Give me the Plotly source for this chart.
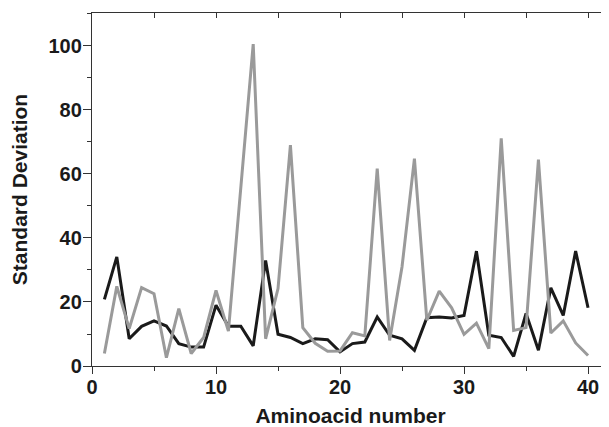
import plotly.graph_objects as go

aminoacid = list(range(1, 41))
sd_black = [20.8, 34.1, 8.5, 12.4, 14.1, 12.5, 7.0, 5.9, 5.9, 19.0,
            12.4, 12.4, 6.3, 33.0, 9.9, 8.9, 7.0, 8.5, 8.2, 4.4,
            7.0, 7.5, 15.3, 9.6, 8.5, 4.9, 15.1, 15.3, 15.0, 15.8,
            35.9, 9.6, 8.9, 3.0, 16.4, 4.9, 24.4, 15.8, 35.9, 18.2]
sd_gray = [3.9, 24.9, 11.7, 24.5, 22.6, 2.6, 17.9, 3.9, 8.9, 23.6,
           10.9, 57.0, 100.6, 8.5, 24.2, 69.0, 12.0, 7.1, 4.6, 4.7,
           10.4, 9.4, 61.7, 8.0, 31.0, 64.8, 14.3, 23.4, 18.2, 9.9,
           13.4, 5.4, 71.1, 11.1, 12.0, 64.5, 10.3, 14.1, 7.2, 3.3]

x_ticks = [0, 10, 20, 30, 40]
y_ticks = [0, 20, 40, 60, 80, 100]

FONT = "Liberation Sans, Arial, sans-serif"
AXC = "#333333"
TXT = "#1a1a1a"
XR = [0, 41.69]
YR = [0, 110.3]

fig = go.Figure()
fig.add_trace(go.Scatter(x=aminoacid, y=sd_black, mode="lines",
                         line=dict(color="#1a1a1a", width=3), showlegend=False))
fig.add_trace(go.Scatter(x=aminoacid, y=sd_gray, mode="lines",
                         line=dict(color="#9a9a9a", width=3), showlegend=False))
# invisible trace to activate the mirrored (top / right) axes
fig.add_trace(go.Scatter(x=[None], y=[None], xaxis="x2", yaxis="y2",
                         showlegend=False, hoverinfo="skip"))

fig.update_layout(
    width=601, height=419,
    margin=dict(l=84, r=0, t=5, b=61),
    paper_bgcolor="white", plot_bgcolor="white",
    font=dict(family=FONT, color=TXT),
    xaxis=dict(range=XR, tickmode="array", tickvals=x_ticks,
               ticktext=["<b>%d</b>" % v for v in x_ticks],
               ticks="outside", ticklen=7, tickwidth=1.3, tickcolor=AXC,
               minor=dict(tickmode="array", tickvals=[5, 15, 25, 35], ticks="outside",
                          ticklen=4, tickwidth=1.3, tickcolor=AXC),
               showline=True, linecolor=AXC, linewidth=1.3,
               showgrid=False, zeroline=False, automargin=False,
               ticklabelstandoff=-4,
               tickfont=dict(size=20, family=FONT, color=TXT),
               title=dict(text="<b>Aminoacid number</b>", standoff=19,
                          font=dict(size=21, family=FONT, color=TXT))),
    xaxis2=dict(range=XR, overlaying="x", side="top", tickmode="array",
                tickvals=[0, 5, 10, 15, 20, 25, 30, 35, 40],
                ticks="inside", ticklen=5, tickwidth=1.3, tickcolor=AXC,
                showticklabels=False, showline=True, linecolor=AXC, linewidth=1.3,
                showgrid=False, zeroline=False, automargin=False),
    yaxis=dict(range=YR, tickmode="array", tickvals=y_ticks,
               ticktext=["<b>%d</b>" % v for v in y_ticks],
               ticks="outside", ticklen=8, tickwidth=1.3, tickcolor=AXC,
               minor=dict(tickmode="array", tickvals=[10, 30, 50, 70, 90, 110], ticks="outside",
                          ticklen=4, tickwidth=1.3, tickcolor=AXC),
               showline=True, linecolor=AXC, linewidth=1.3,
               showgrid=False, zeroline=False, automargin=False,
               ticklabelstandoff=-3,
               tickfont=dict(size=20, family=FONT, color=TXT),
               title=dict(text="<b>Standard Deviation</b>", standoff=21,
                          font=dict(size=21, family=FONT, color=TXT))),
    yaxis2=dict(range=YR, overlaying="y", side="right", tickmode="array",
                tickvals=y_ticks, ticks="inside", ticklen=5, tickwidth=1.3, tickcolor=AXC,
                minor=dict(tickmode="array", tickvals=[10, 30, 50, 70, 90], ticks="inside",
                           ticklen=2, tickwidth=1.0, tickcolor=AXC),
                showticklabels=False, showline=False,
                showgrid=False, zeroline=False, automargin=False),
)

fig.write_html("out.html")
